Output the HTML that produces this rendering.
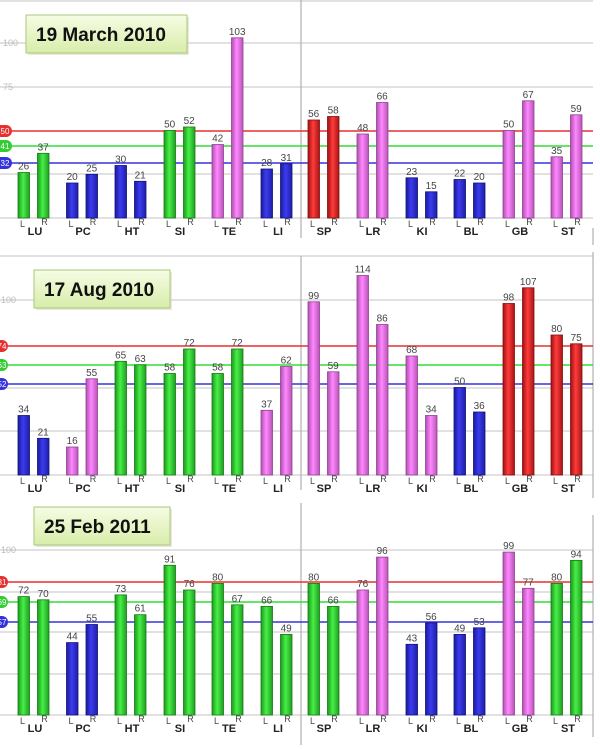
<!DOCTYPE html>
<html><head><meta charset="utf-8"><style>
html,body{margin:0;padding:0;background:#fff;}
svg{display:block;font-family:"Liberation Sans",sans-serif;}
.v{font-size:10px;fill:#444;text-anchor:middle;}
.lr{font-size:9px;fill:#444;text-anchor:middle;}
.g{font-size:11px;font-weight:bold;fill:#222;text-anchor:middle;}
.ax{font-size:9px;fill:#bbb;}
.t{font-size:19px;font-weight:bold;fill:#111;}
</style></head><body>
<svg width="600" height="749" viewBox="0 0 600 749">
<defs>
<linearGradient id="gg" x1="0" x2="1"><stop offset="0" stop-color="#1b9a1b"/><stop offset=".45" stop-color="#48ee48"/><stop offset="1" stop-color="#1f9f1f"/></linearGradient>
<linearGradient id="gb" x1="0" x2="1"><stop offset="0" stop-color="#1a1a9a"/><stop offset=".45" stop-color="#3c3cf0"/><stop offset="1" stop-color="#1e1ea5"/></linearGradient>
<linearGradient id="gp" x1="0" x2="1"><stop offset="0" stop-color="#b050b0"/><stop offset=".45" stop-color="#ff88ff"/><stop offset="1" stop-color="#b855b8"/></linearGradient>
<linearGradient id="gr" x1="0" x2="1"><stop offset="0" stop-color="#a01010"/><stop offset=".45" stop-color="#ff3c3c"/><stop offset="1" stop-color="#a81414"/></linearGradient>
<linearGradient id="tb" x1="0" y1="0" x2="0" y2="1"><stop offset="0" stop-color="#f6fce4"/><stop offset="1" stop-color="#d8edaa"/></linearGradient>
</defs>
<g stroke="#cfcfcf" stroke-width="1.2">
<line x1="0" y1="1" x2="593" y2="1"/>
<line x1="0" y1="43" x2="593" y2="43"/><line x1="0" y1="87" x2="593" y2="87"/><line x1="0" y1="174" x2="593" y2="174"/><line x1="0" y1="218" x2="593" y2="218"/>
<line x1="0" y1="256" x2="593" y2="256"/><line x1="0" y1="300" x2="593" y2="300"/><line x1="0" y1="388" x2="593" y2="388"/><line x1="0" y1="431" x2="593" y2="431"/><line x1="0" y1="475" x2="593" y2="475"/>
<line x1="0" y1="550" x2="593" y2="550"/><line x1="0" y1="592" x2="593" y2="592"/><line x1="0" y1="632" x2="593" y2="632"/><line x1="0" y1="674" x2="593" y2="674"/><line x1="0" y1="715" x2="593" y2="715"/>
</g>
<g stroke="#b0b0b0" stroke-width="1.2">
<line x1="301" y1="0" x2="301" y2="238"/><line x1="301" y1="256" x2="301" y2="490"/><line x1="301" y1="503" x2="301" y2="745"/>
<line x1="593" y1="228" x2="593" y2="245"/><line x1="593" y1="252" x2="593" y2="498"/><line x1="593" y1="515" x2="593" y2="737"/>
</g>
<text class="ax" x="3" y="46">100</text><text class="ax" x="3" y="90">75</text>
<text class="ax" x="1" y="303">100</text><text class="ax" x="1" y="553">100</text>
<g stroke-width="1.6">
<line x1="0" y1="131" x2="593" y2="131" stroke="#e83030"/><line x1="0" y1="146" x2="593" y2="146" stroke="#33dd33"/><line x1="0" y1="163" x2="593" y2="163" stroke="#3333dd"/>
<line x1="0" y1="346" x2="593" y2="346" stroke="#e83030"/><line x1="0" y1="365" x2="593" y2="365" stroke="#33dd33"/><line x1="0" y1="384" x2="593" y2="384" stroke="#3333dd"/>
<line x1="0" y1="582" x2="593" y2="582" stroke="#e83030"/><line x1="0" y1="602" x2="593" y2="602" stroke="#33dd33"/><line x1="0" y1="622" x2="593" y2="622" stroke="#3333dd"/>
</g>
<g font-size="8" fill="#fff" text-anchor="middle">
<rect x="-6" y="125" width="18" height="12" rx="6" fill="#e83030"/><text x="5" y="134">50</text>
<rect x="-6" y="140" width="18" height="12" rx="6" fill="#33cc33"/><text x="5" y="149">41</text>
<rect x="-6" y="157" width="18" height="12" rx="6" fill="#3333dd"/><text x="5" y="166">32</text>
<rect x="-10" y="340" width="18" height="12" rx="6" fill="#e83030"/><text x="2" y="349">74</text>
<rect x="-10" y="359" width="18" height="12" rx="6" fill="#33cc33"/><text x="2" y="368">63</text>
<rect x="-10" y="378" width="18" height="12" rx="6" fill="#3333dd"/><text x="2" y="387">52</text>
<rect x="-10" y="576" width="18" height="12" rx="6" fill="#e83030"/><text x="2" y="585">81</text>
<rect x="-10" y="596" width="18" height="12" rx="6" fill="#33cc33"/><text x="2" y="605">69</text>
<rect x="-10" y="616" width="18" height="12" rx="6" fill="#3333dd"/><text x="2" y="625">57</text>
</g>
<!-- Panel 1 bars -->
<g stroke-width="0.8">
<rect x="18" y="172.5" width="11.5" height="45.5" fill="url(#gg)" stroke="#167a16"/><rect x="37.5" y="153.3" width="11.5" height="64.7" fill="url(#gg)" stroke="#167a16"/>
<rect x="66.5" y="183" width="11.5" height="35" fill="url(#gb)" stroke="#12127a"/><rect x="86" y="174.3" width="11.5" height="43.7" fill="url(#gb)" stroke="#12127a"/>
<rect x="115" y="165.5" width="11.5" height="52.5" fill="url(#gb)" stroke="#12127a"/><rect x="134.5" y="181.3" width="11.5" height="36.7" fill="url(#gb)" stroke="#12127a"/>
<rect x="164" y="130.5" width="11.5" height="87.5" fill="url(#gg)" stroke="#167a16"/><rect x="183.5" y="127" width="11.5" height="91" fill="url(#gg)" stroke="#167a16"/>
<rect x="212" y="144.5" width="11.5" height="73.5" fill="url(#gp)" stroke="#904090"/><rect x="231.5" y="37.8" width="11.5" height="180.2" fill="url(#gp)" stroke="#904090"/>
<rect x="261" y="169" width="11.5" height="49" fill="url(#gb)" stroke="#12127a"/><rect x="280.5" y="163.8" width="11.5" height="54.2" fill="url(#gb)" stroke="#12127a"/>
<rect x="308" y="120" width="11.5" height="98" fill="url(#gr)" stroke="#801010"/><rect x="327.5" y="116.5" width="11.5" height="101.5" fill="url(#gr)" stroke="#801010"/>
<rect x="357" y="134" width="11.5" height="84" fill="url(#gp)" stroke="#904090"/><rect x="376.5" y="102.5" width="11.5" height="115.5" fill="url(#gp)" stroke="#904090"/>
<rect x="406" y="177.8" width="11.5" height="40.2" fill="url(#gb)" stroke="#12127a"/><rect x="425.5" y="191.8" width="11.5" height="26.2" fill="url(#gb)" stroke="#12127a"/>
<rect x="454" y="179.5" width="11.5" height="38.5" fill="url(#gb)" stroke="#12127a"/><rect x="473.5" y="183" width="11.5" height="35" fill="url(#gb)" stroke="#12127a"/>
<rect x="503" y="130.5" width="11.5" height="87.5" fill="url(#gp)" stroke="#904090"/><rect x="522.5" y="100.8" width="11.5" height="117.2" fill="url(#gp)" stroke="#904090"/>
<rect x="551" y="156.8" width="11.5" height="61.2" fill="url(#gp)" stroke="#904090"/><rect x="570.5" y="114.8" width="11.5" height="103.2" fill="url(#gp)" stroke="#904090"/>
</g>
<g class="v">
<text x="23.7" y="169.5">26</text><text x="43.2" y="150.3">37</text><text x="72.2" y="180">20</text><text x="91.7" y="171.3">25</text>
<text x="120.7" y="162.5">30</text><text x="140.2" y="178.3">21</text><text x="169.7" y="127.5">50</text><text x="189.2" y="124">52</text>
<text x="217.7" y="141.5">42</text><text x="237.2" y="34.8">103</text><text x="266.7" y="166">28</text><text x="286.2" y="160.8">31</text>
<text x="313.7" y="117">56</text><text x="333.2" y="113.5">58</text><text x="362.7" y="131">48</text><text x="382.2" y="99.5">66</text>
<text x="411.7" y="174.8">23</text><text x="431.2" y="188.8">15</text><text x="459.7" y="176.5">22</text><text x="479.2" y="180">20</text>
<text x="508.7" y="127.5">50</text><text x="528.2" y="97.8">67</text><text x="556.7" y="153.8">35</text><text x="576.2" y="111.8">59</text>
</g>
<!-- Panel 2 bars -->
<g stroke-width="0.8">
<rect x="18" y="415.5" width="11.5" height="59.5" fill="url(#gb)" stroke="#12127a"/><rect x="37.5" y="438.3" width="11.5" height="36.7" fill="url(#gb)" stroke="#12127a"/>
<rect x="66.5" y="447" width="11.5" height="28" fill="url(#gp)" stroke="#904090"/><rect x="86" y="378.8" width="11.5" height="96.2" fill="url(#gp)" stroke="#904090"/>
<rect x="115" y="361.3" width="11.5" height="113.7" fill="url(#gg)" stroke="#167a16"/><rect x="134.5" y="364.8" width="11.5" height="110.2" fill="url(#gg)" stroke="#167a16"/>
<rect x="164" y="373.5" width="11.5" height="101.5" fill="url(#gg)" stroke="#167a16"/><rect x="183.5" y="349" width="11.5" height="126" fill="url(#gg)" stroke="#167a16"/>
<rect x="212" y="373.5" width="11.5" height="101.5" fill="url(#gg)" stroke="#167a16"/><rect x="231.5" y="349" width="11.5" height="126" fill="url(#gg)" stroke="#167a16"/>
<rect x="261" y="410.3" width="11.5" height="64.7" fill="url(#gp)" stroke="#904090"/><rect x="280.5" y="366.5" width="11.5" height="108.5" fill="url(#gp)" stroke="#904090"/>
<rect x="308" y="301.8" width="11.5" height="173.2" fill="url(#gp)" stroke="#904090"/><rect x="327.5" y="371.8" width="11.5" height="103.2" fill="url(#gp)" stroke="#904090"/>
<rect x="357" y="275.5" width="11.5" height="199.5" fill="url(#gp)" stroke="#904090"/><rect x="376.5" y="324.5" width="11.5" height="150.5" fill="url(#gp)" stroke="#904090"/>
<rect x="406" y="356" width="11.5" height="119" fill="url(#gp)" stroke="#904090"/><rect x="425.5" y="415.5" width="11.5" height="59.5" fill="url(#gp)" stroke="#904090"/>
<rect x="454" y="387.5" width="11.5" height="87.5" fill="url(#gb)" stroke="#12127a"/><rect x="473.5" y="412" width="11.5" height="63" fill="url(#gb)" stroke="#12127a"/>
<rect x="503" y="303.5" width="11.5" height="171.5" fill="url(#gr)" stroke="#801010"/><rect x="522.5" y="287.8" width="11.5" height="187.2" fill="url(#gr)" stroke="#801010"/>
<rect x="551" y="335" width="11.5" height="140" fill="url(#gr)" stroke="#801010"/><rect x="570.5" y="343.8" width="11.5" height="131.2" fill="url(#gr)" stroke="#801010"/>
</g>
<g class="v">
<text x="23.7" y="412.5">34</text><text x="43.2" y="435.3">21</text><text x="72.2" y="444">16</text><text x="91.7" y="375.8">55</text>
<text x="120.7" y="358.3">65</text><text x="140.2" y="361.8">63</text><text x="169.7" y="370.5">58</text><text x="189.2" y="346">72</text>
<text x="217.7" y="370.5">58</text><text x="237.2" y="346">72</text><text x="266.7" y="407.3">37</text><text x="286.2" y="363.5">62</text>
<text x="313.7" y="298.8">99</text><text x="333.2" y="368.8">59</text><text x="362.7" y="272.5">114</text><text x="382.2" y="321.5">86</text>
<text x="411.7" y="353">68</text><text x="431.2" y="412.5">34</text><text x="459.7" y="384.5">50</text><text x="479.2" y="409">36</text>
<text x="508.7" y="300.5">98</text><text x="528.2" y="284.8">107</text><text x="556.7" y="332">80</text><text x="576.2" y="340.8">75</text>
</g>
<!-- Panel 3 bars -->
<g stroke-width="0.8">
<rect x="18" y="596.6" width="11.5" height="118.4" fill="url(#gg)" stroke="#167a16"/><rect x="37.5" y="599.8" width="11.5" height="115.2" fill="url(#gg)" stroke="#167a16"/>
<rect x="66.5" y="642.6" width="11.5" height="72.4" fill="url(#gb)" stroke="#12127a"/><rect x="86" y="624.5" width="11.5" height="90.5" fill="url(#gb)" stroke="#12127a"/>
<rect x="115" y="594.9" width="11.5" height="120.1" fill="url(#gg)" stroke="#167a16"/><rect x="134.5" y="614.7" width="11.5" height="100.3" fill="url(#gg)" stroke="#167a16"/>
<rect x="164" y="565.3" width="11.5" height="149.7" fill="url(#gg)" stroke="#167a16"/><rect x="183.5" y="590" width="11.5" height="125" fill="url(#gg)" stroke="#167a16"/>
<rect x="212" y="583.4" width="11.5" height="131.6" fill="url(#gg)" stroke="#167a16"/><rect x="231.5" y="604.8" width="11.5" height="110.2" fill="url(#gg)" stroke="#167a16"/>
<rect x="261" y="606.4" width="11.5" height="108.6" fill="url(#gg)" stroke="#167a16"/><rect x="280.5" y="634.4" width="11.5" height="80.6" fill="url(#gg)" stroke="#167a16"/>
<rect x="308" y="583.4" width="11.5" height="131.6" fill="url(#gg)" stroke="#167a16"/><rect x="327.5" y="606.4" width="11.5" height="108.6" fill="url(#gg)" stroke="#167a16"/>
<rect x="357" y="590" width="11.5" height="125" fill="url(#gp)" stroke="#904090"/><rect x="376.5" y="557.1" width="11.5" height="157.9" fill="url(#gp)" stroke="#904090"/>
<rect x="406" y="644.3" width="11.5" height="70.7" fill="url(#gb)" stroke="#12127a"/><rect x="425.5" y="622.9" width="11.5" height="92.1" fill="url(#gb)" stroke="#12127a"/>
<rect x="454" y="634.4" width="11.5" height="80.6" fill="url(#gb)" stroke="#12127a"/><rect x="473.5" y="627.8" width="11.5" height="87.2" fill="url(#gb)" stroke="#12127a"/>
<rect x="503" y="552.1" width="11.5" height="162.9" fill="url(#gp)" stroke="#904090"/><rect x="522.5" y="588.3" width="11.5" height="126.7" fill="url(#gp)" stroke="#904090"/>
<rect x="551" y="583.4" width="11.5" height="131.6" fill="url(#gg)" stroke="#167a16"/><rect x="570.5" y="560.4" width="11.5" height="154.6" fill="url(#gg)" stroke="#167a16"/>
</g>
<g class="v">
<text x="23.7" y="593.6">72</text><text x="43.2" y="596.8">70</text><text x="72.2" y="639.6">44</text><text x="91.7" y="621.5">55</text>
<text x="120.7" y="591.9">73</text><text x="140.2" y="611.7">61</text><text x="169.7" y="562.3">91</text><text x="189.2" y="587">76</text>
<text x="217.7" y="580.4">80</text><text x="237.2" y="601.8">67</text><text x="266.7" y="603.4">66</text><text x="286.2" y="631.4">49</text>
<text x="313.7" y="580.4">80</text><text x="333.2" y="603.4">66</text><text x="362.7" y="587">76</text><text x="382.2" y="554.1">96</text>
<text x="411.7" y="641.3">43</text><text x="431.2" y="619.9">56</text><text x="459.7" y="631.4">49</text><text x="479.2" y="624.8">53</text>
<text x="508.7" y="549.1">99</text><text x="528.2" y="585.3">77</text><text x="556.7" y="580.4">80</text><text x="576.2" y="557.4">94</text>
</g>
<!-- L/R and group labels -->
<g class="lr">
<text x="22.5" y="227">L</text><text x="44.5" y="225">R</text><text x="71" y="227">L</text><text x="93" y="225">R</text><text x="119.5" y="227">L</text><text x="141.5" y="225">R</text><text x="168.5" y="227">L</text><text x="190.5" y="225">R</text><text x="216.5" y="227">L</text><text x="238.5" y="225">R</text><text x="265.5" y="227">L</text><text x="287.5" y="225">R</text><text x="312.5" y="227">L</text><text x="334.5" y="225">R</text><text x="361.5" y="227">L</text><text x="383.5" y="225">R</text><text x="410.5" y="227">L</text><text x="432.5" y="225">R</text><text x="458.5" y="227">L</text><text x="480.5" y="225">R</text><text x="507.5" y="227">L</text><text x="529.5" y="225">R</text><text x="555.5" y="227">L</text><text x="577.5" y="225">R</text>
<text x="22.5" y="484">L</text><text x="44.5" y="482">R</text><text x="71" y="484">L</text><text x="93" y="482">R</text><text x="119.5" y="484">L</text><text x="141.5" y="482">R</text><text x="168.5" y="484">L</text><text x="190.5" y="482">R</text><text x="216.5" y="484">L</text><text x="238.5" y="482">R</text><text x="265.5" y="484">L</text><text x="287.5" y="482">R</text><text x="312.5" y="484">L</text><text x="334.5" y="482">R</text><text x="361.5" y="484">L</text><text x="383.5" y="482">R</text><text x="410.5" y="484">L</text><text x="432.5" y="482">R</text><text x="458.5" y="484">L</text><text x="480.5" y="482">R</text><text x="507.5" y="484">L</text><text x="529.5" y="482">R</text><text x="555.5" y="484">L</text><text x="577.5" y="482">R</text>
<text x="22.5" y="724">L</text><text x="44.5" y="722">R</text><text x="71" y="724">L</text><text x="93" y="722">R</text><text x="119.5" y="724">L</text><text x="141.5" y="722">R</text><text x="168.5" y="724">L</text><text x="190.5" y="722">R</text><text x="216.5" y="724">L</text><text x="238.5" y="722">R</text><text x="265.5" y="724">L</text><text x="287.5" y="722">R</text><text x="312.5" y="724">L</text><text x="334.5" y="722">R</text><text x="361.5" y="724">L</text><text x="383.5" y="722">R</text><text x="410.5" y="724">L</text><text x="432.5" y="722">R</text><text x="458.5" y="724">L</text><text x="480.5" y="722">R</text><text x="507.5" y="724">L</text><text x="529.5" y="722">R</text><text x="555.5" y="724">L</text><text x="577.5" y="722">R</text>
</g>
<g class="g">
<text x="35" y="235">LU</text><text x="83" y="235">PC</text><text x="132" y="235">HT</text><text x="180" y="235">SI</text><text x="229" y="235">TE</text><text x="278" y="235">LI</text><text x="324" y="235">SP</text><text x="373" y="235">LR</text><text x="422" y="235">KI</text><text x="471" y="235">BL</text><text x="520" y="235">GB</text><text x="568" y="235">ST</text>
<text x="35" y="492">LU</text><text x="83" y="492">PC</text><text x="132" y="492">HT</text><text x="180" y="492">SI</text><text x="229" y="492">TE</text><text x="278" y="492">LI</text><text x="324" y="492">SP</text><text x="373" y="492">LR</text><text x="422" y="492">KI</text><text x="471" y="492">BL</text><text x="520" y="492">GB</text><text x="568" y="492">ST</text>
<text x="35" y="732">LU</text><text x="83" y="732">PC</text><text x="132" y="732">HT</text><text x="180" y="732">SI</text><text x="229" y="732">TE</text><text x="278" y="732">LI</text><text x="324" y="732">SP</text><text x="373" y="732">LR</text><text x="422" y="732">KI</text><text x="471" y="732">BL</text><text x="520" y="732">GB</text><text x="568" y="732">ST</text>
</g>
<!-- title boxes -->
<rect x="28" y="17" width="161" height="38" fill="#d8d8c8" opacity=".6"/>
<rect x="26" y="15" width="161" height="38" fill="url(#tb)" stroke="#a9c77a"/>
<text class="t" x="36" y="41">19 March 2010</text>
<rect x="36" y="272" width="136" height="38" fill="#d8d8c8" opacity=".6"/>
<rect x="34" y="270" width="136" height="38" fill="url(#tb)" stroke="#a9c77a"/>
<text class="t" x="44" y="296">17 Aug 2010</text>
<rect x="36" y="509" width="136" height="38" fill="#d8d8c8" opacity=".6"/>
<rect x="34" y="507" width="136" height="38" fill="url(#tb)" stroke="#a9c77a"/>
<text class="t" x="44" y="533">25 Feb 2011</text>
</svg>
</body></html>
